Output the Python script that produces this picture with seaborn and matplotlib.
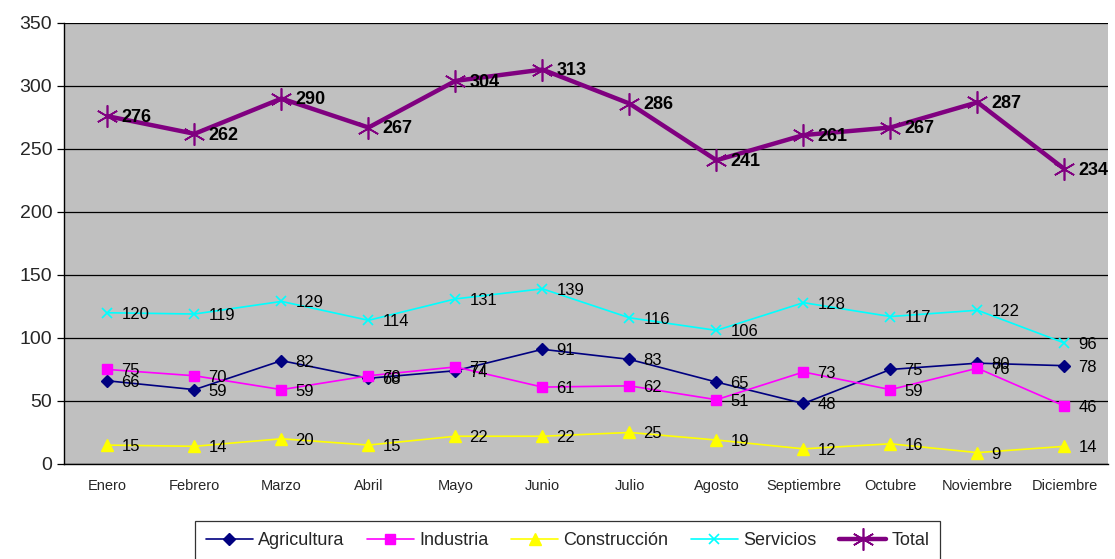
import numpy as np
import pandas as pd
import matplotlib
matplotlib.use("Agg")
import matplotlib.pyplot as plt
from matplotlib.ticker import FixedLocator
import seaborn as sns

meses = ["Enero", "Febrero", "Marzo", "Abril", "Mayo", "Junio", "Julio",
         "Agosto", "Septiembre", "Octubre", "Noviembre", "Diciembre"]
agricultura = [66, 59, 82, 68, 74, 91, 83, 65, 48, 75, 80, 78]
industria = [75, 70, 59, 70, 77, 61, 62, 51, 73, 59, 76, 46]
construccion = [15, 14, 20, 15, 22, 22, 25, 19, 12, 16, 9, 14]
servicios = [120, 119, 129, 114, 131, 139, 116, 106, 128, 117, 122, 96]
total = [276, 262, 290, 267, 304, 313, 286, 241, 261, 267, 287, 234]

sns.set_style("white")
plt.rcParams["font.family"] = ["Liberation Sans", "DejaVu Sans"]

series = [
    ("Agricultura", agricultura, "#000080", "D", 6, 1.2, 1.0, False),
    ("Industria", industria, "#FF00FF", "s", 7, 1.2, 1.0, False),
    ("Construcción", construccion, "#FFFF00", "^", 8, 1.2, 1.0, False),
    ("Servicios", servicios, "#00FFFF", "x", 7, 1.2, 1.2, False),
    ("Total", total, "#800080", (6, 2, 0), 16, 3.2, 1.2, True),
]

fig = plt.figure(figsize=(11.15, 5.59), dpi=100)
ax = fig.add_axes([0.0574, 0.170, 0.9363, 0.789])
ax.set_facecolor("#C0C0C0")

x = np.arange(len(meses))
for name, vals, color, marker, ms, lw, mew, bold in series:
    df = pd.DataFrame({"mes": x, "valor": vals})
    sns.lineplot(data=df, x="mes", y="valor", ax=ax, color=color, marker=marker,
                 markersize=ms, linewidth=lw, markeredgecolor=color,
                 markeredgewidth=mew, label=name)
    for xi, v in zip(x, vals):
        ax.annotate(str(v), (xi, v), xytext=(10, -1), textcoords="offset points",
                    ha="left", va="center", fontsize=13 if bold else 12,
                    fontweight="bold" if bold else "normal", color="black",
                    annotation_clip=False)

ax.set_xlim(-0.5, len(meses) - 0.5)
ax.set_ylim(0, 350)
ax.set_yticks(range(0, 351, 50))
ax.yaxis.grid(True, color="black", linewidth=0.9)
ax.set_axisbelow(True)
ax.set_xticks(x)
ax.set_xticklabels(meses, fontsize=10.5)
ax.xaxis.set_minor_locator(FixedLocator(np.arange(-0.5, len(meses), 1.0)))
ax.tick_params(axis="x", which="major", length=0, pad=11)
ax.tick_params(axis="x", which="minor", length=6, width=0.9, color="black", direction="out")
ax.tick_params(axis="y", labelsize=14, length=5, width=0.9, color="black", direction="out", left=True)
ax.set_xlabel("")
ax.set_ylabel("")
for s in ["top", "right"]:
    ax.spines[s].set_visible(False)
for s in ["left", "bottom"]:
    ax.spines[s].set_color("black")
    ax.spines[s].set_linewidth(1.0)

handles, labels = ax.get_legend_handles_labels()
ax.legend_.remove()
leg = fig.legend(handles, labels, loc="upper center", bbox_to_anchor=(0.509, 0.068),
                 ncol=5, frameon=True, fancybox=False, edgecolor="black",
                 fontsize=13, handlelength=2.6, handletextpad=0.3,
                 columnspacing=1.25, borderpad=0.6, borderaxespad=0)
leg.get_frame().set_linewidth(0.9)

fig.savefig("out.png", dpi=100)
